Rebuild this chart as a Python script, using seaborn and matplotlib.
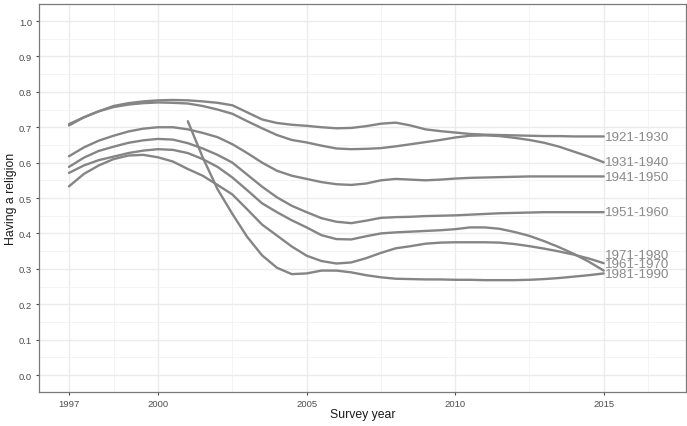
import numpy as np
import pandas as pd
import matplotlib
matplotlib.use("Agg")
import matplotlib.pyplot as plt
import seaborn as sns
from matplotlib.ticker import FixedLocator

# ---------------- data ----------------
years = np.arange(1997, 2015.01, 0.5)          # survey-year grid 1997 .. 2015
years_1981 = np.arange(2001, 2015.01, 0.5)     # youngest cohort starts in 2001

c1921 = [0.705, 0.728, 0.745, 0.760, 0.768, 0.773, 0.776, 0.777, 0.776, 0.773,
         0.769, 0.762, 0.742, 0.722, 0.712, 0.707, 0.704, 0.700, 0.697, 0.698,
         0.703, 0.710, 0.713, 0.705, 0.694, 0.689, 0.685, 0.681, 0.679, 0.678,
         0.677, 0.676, 0.675, 0.675, 0.674, 0.674, 0.674]
c1931 = [0.709, 0.728, 0.745, 0.757, 0.764, 0.768, 0.770, 0.769, 0.767, 0.760,
         0.750, 0.738, 0.717, 0.697, 0.678, 0.664, 0.657, 0.648, 0.640, 0.638,
         0.639, 0.641, 0.646, 0.652, 0.658, 0.664, 0.671, 0.676, 0.677, 0.675,
         0.670, 0.664, 0.656, 0.645, 0.631, 0.617, 0.601]
c1941 = [0.618, 0.643, 0.662, 0.676, 0.688, 0.696, 0.700, 0.700, 0.694, 0.684,
         0.672, 0.652, 0.627, 0.600, 0.577, 0.563, 0.554, 0.545, 0.539, 0.537,
         0.541, 0.550, 0.554, 0.552, 0.550, 0.552, 0.555, 0.557, 0.558, 0.559,
         0.560, 0.561, 0.561, 0.561, 0.561, 0.561, 0.561]
c1951 = [0.588, 0.614, 0.633, 0.645, 0.656, 0.663, 0.667, 0.665, 0.655, 0.640,
         0.622, 0.600, 0.566, 0.532, 0.502, 0.478, 0.460, 0.443, 0.433, 0.429,
         0.436, 0.444, 0.446, 0.447, 0.449, 0.450, 0.451, 0.453, 0.455, 0.457,
         0.458, 0.459, 0.460, 0.460, 0.460, 0.460, 0.460]
c1961 = [0.571, 0.592, 0.607, 0.617, 0.627, 0.634, 0.638, 0.636, 0.627, 0.610,
         0.588, 0.558, 0.522, 0.485, 0.460, 0.437, 0.417, 0.395, 0.384, 0.383,
         0.392, 0.400, 0.403, 0.405, 0.407, 0.409, 0.412, 0.417, 0.417, 0.413,
         0.404, 0.393, 0.378, 0.361, 0.342, 0.320, 0.295]
c1971 = [0.533, 0.568, 0.592, 0.610, 0.620, 0.622, 0.615, 0.603, 0.582, 0.563,
         0.537, 0.510, 0.468, 0.425, 0.394, 0.363, 0.337, 0.322, 0.315, 0.318,
         0.330, 0.345, 0.358, 0.364, 0.371, 0.374, 0.375, 0.375, 0.375, 0.374,
         0.370, 0.364, 0.357, 0.349, 0.340, 0.329, 0.316]
c1981 = [0.717, 0.615, 0.525, 0.455, 0.390, 0.338, 0.303, 0.285, 0.287, 0.295,
         0.295, 0.290, 0.282, 0.276, 0.272, 0.271, 0.270, 0.270, 0.269, 0.269,
         0.268, 0.268, 0.268, 0.269, 0.271, 0.274, 0.278, 0.282, 0.287]

cohorts = ["1921-1930", "1931-1940", "1941-1950", "1951-1960",
           "1961-1970", "1971-1980", "1981-1990"]
label_y = [0.673, 0.601, 0.560, 0.460, 0.313, 0.340, 0.285]
x_ticks = [1997, 2000, 2005, 2010, 2015]
x_minor = [1998.5, 2002.5, 2007.5, 2012.5, 2016.5]
y_ticks = [0.0, 0.1, 0.2, 0.3, 0.4, 0.5, 0.6, 0.7, 0.8, 0.9, 1.0]

series = [c1921, c1931, c1941, c1951, c1961, c1971, c1981]
frames = []
for name, vals in zip(cohorts, series):
    xs = years_1981 if name == "1981-1990" else years
    frames.append(pd.DataFrame({"year": xs, "value": vals, "cohort": name}))
df = pd.concat(frames, ignore_index=True)

# ---------------- style ----------------
sns.set_theme(style="white")
plt.rcParams["font.family"] = ["Liberation Sans", "DejaVu Sans"]

line_col = "#858585"
fig = plt.figure(figsize=(6.87, 4.27), dpi=100)
ax = fig.add_axes([39 / 687, 1 - 393 / 427, (686 - 39) / 687, (393 - 4.7) / 427])

sns.lineplot(data=df, x="year", y="value", hue="cohort",
             palette=[line_col] * len(cohorts), estimator=None, sort=False,
             linewidth=1.7, legend=False, ax=ax, zorder=3)

for name, yv in zip(cohorts, label_y):
    ax.text(2015.05, yv, name, color="#8a8a8a", fontsize=9.6,
            ha="left", va="center", zorder=4)

ax.set_xlim(1995.99, 2017.77)
ax.set_ylim(-0.048, 1.049)
ax.xaxis.set_major_locator(FixedLocator(x_ticks))
ax.xaxis.set_minor_locator(FixedLocator(x_minor))
ax.yaxis.set_major_locator(FixedLocator(y_ticks))
ax.yaxis.set_minor_locator(FixedLocator([v + 0.05 for v in y_ticks[:-1]]))
ax.set_xticklabels([str(t) for t in x_ticks])
ax.set_yticklabels([f"{t:.1f}" for t in y_ticks])

ax.grid(which="major", color="#ebebeb", linewidth=1.0, zorder=0)
ax.grid(which="minor", color="#f2f2f2", linewidth=0.6, zorder=0)
ax.set_axisbelow(True)

for sp in ax.spines.values():
    sp.set_visible(True)
    sp.set_color("#7a7a7a")
    sp.set_linewidth(0.9)

ax.tick_params(axis="both", which="major", length=2.5, width=0.8,
               color="#4d4d4d", labelsize=6.8, labelcolor="#4d4d4d", pad=2.5)
ax.tick_params(axis="both", which="minor", length=0)
ax.tick_params(axis="x", bottom=True)
ax.tick_params(axis="y", left=True)

ax.set_xlabel("Survey year", fontsize=8.8, color="#1a1a1a", labelpad=0)
ax.set_ylabel("Having a religion", fontsize=8.8, color="#1a1a1a", labelpad=1.5)

fig.savefig("out.png", dpi=100)
